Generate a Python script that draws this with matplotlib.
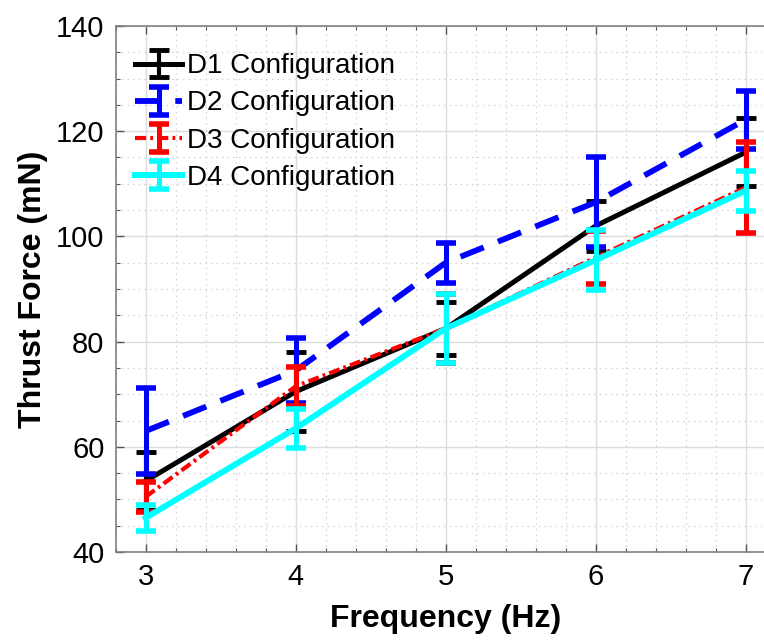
import matplotlib
matplotlib.use("Agg")
import matplotlib.pyplot as plt
from matplotlib.ticker import MultipleLocator

plt.rcParams['font.family'] = ['Liberation Sans', 'DejaVu Sans']
plt.rcParams['lines.scale_dashes'] = False

freq = [3, 4, 5, 6, 7]
d1 = [53.5, 70.5, 82.5, 102.0, 116.0]
d1_err = [5.5, 7.5, 5.0, 4.7, 6.5]
d2 = [63.0, 74.5, 95.0, 106.5, 122.2]
d2_err = [8.2, 6.2, 3.8, 8.5, 5.5]
d3 = [50.5, 71.5, 82.5, 96.0, 109.3]
d3_err = [2.8, 3.7, 6.5, 5.0, 8.6]
d4 = [46.5, 63.5, 82.5, 95.5, 108.7]
d4_err = [2.5, 3.7, 6.5, 5.7, 3.8]
labels = ['D1 Configuration', 'D2 Configuration', 'D3 Configuration', 'D4 Configuration']

fig = plt.figure(figsize=(7.64, 6.43), dpi=100)
ax = fig.add_axes([0.1514, 0.1415, 0.864, 0.8181])

ax.errorbar(freq, d1, yerr=d1_err, color='black', lw=3.6, elinewidth=3.0,
            capsize=7, capthick=3.5, label=labels[0], zorder=3)
ax.errorbar(freq, d2, yerr=d2_err, color='#0000ff', lw=4.2, elinewidth=3.6,
            capsize=7, capthick=4, label=labels[1], dashes=(18, 11), zorder=4)
ax.errorbar(freq, d3, yerr=d3_err, color='#ff0000', lw=3.0, elinewidth=3.6,
            capsize=7, capthick=4, label=labels[2], dashes=(8, 3, 2, 3), zorder=5)
ax.errorbar(freq, d4, yerr=d4_err, color='#00ffff', lw=4.3, elinewidth=3.6,
            capsize=7, capthick=4, label=labels[3], zorder=6)

ax.set_xlim(2.8, 7.2)
ax.set_ylim(40, 140)
ax.set_xticks([3, 4, 5, 6, 7])
ax.set_yticks([40, 60, 80, 100, 120, 140])
ax.xaxis.set_minor_locator(MultipleLocator(0.2))
ax.yaxis.set_minor_locator(MultipleLocator(5))
ax.grid(True, which='major', color='#dcdcdc', lw=1.0, ls='-')
ax.grid(True, which='minor', color='#cfcfcf', lw=0.9, ls=(0, (1, 3)))
ax.set_axisbelow(True)
ax.tick_params(which='both', direction='in', top=True, right=True,
               colors='#555555', labelcolor='black', labelsize=21, pad=8)
ax.tick_params(which='major', length=6, width=1)
ax.tick_params(which='minor', length=3, width=0.8)
for s in ax.spines.values():
    s.set_color('#808080')
    s.set_linewidth(1.2)

ax.set_xlabel('Frequency (Hz)', fontsize=23, fontweight='bold', labelpad=9)
ax.set_ylabel('Thrust Force (mN)', fontsize=23, fontweight='bold', labelpad=6)

leg = ax.legend(loc='upper left', frameon=False, fontsize=20,
                handlelength=1.7, handletextpad=0.18, labelspacing=0.4,
                borderaxespad=0.3, bbox_to_anchor=(0.0, 0.985))

fig.savefig('out.png', dpi=100)
